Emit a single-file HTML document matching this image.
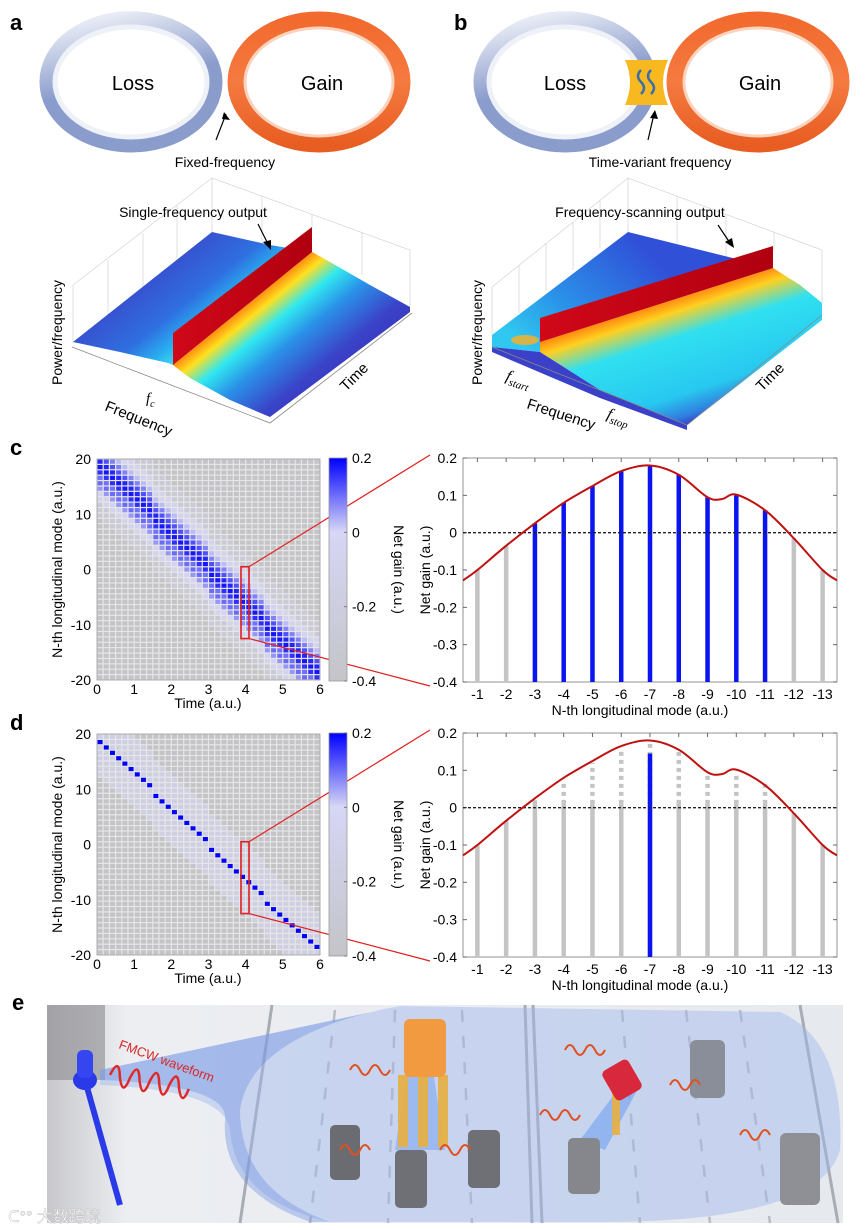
<!DOCTYPE html>
<html><head><meta charset="utf-8">
<style>
html,body{margin:0;padding:0;background:#fff;}
svg{display:block;font-family:"Liberation Sans","Noto Sans CJK SC",sans-serif;}
</style></head>
<body>
<svg id="fig" width="865" height="1230" viewBox="0 0 865 1230" xmlns="http://www.w3.org/2000/svg">
<defs>
  <linearGradient id="lossL" x1="0" y1="0" x2="0.3" y2="1">
    <stop offset="0" stop-color="#fff" stop-opacity="0.9"/><stop offset="0.6" stop-color="#fff" stop-opacity="0"/>
  </linearGradient>
  <linearGradient id="gainG" x1="0" y1="0" x2="0" y2="1">
    <stop offset="0" stop-color="#f26a2e"/><stop offset="0.5" stop-color="#f47a40"/><stop offset="1" stop-color="#e85d22"/>
  </linearGradient>
  <!-- panel a gradients -->
  <linearGradient id="aRight" gradientUnits="userSpaceOnUse" x1="240" y1="310" x2="306" y2="391">
    <stop offset="0" stop-color="#ff8a10"/><stop offset="0.12" stop-color="#ffe020"/><stop offset="0.3" stop-color="#30e8f0"/><stop offset="0.55" stop-color="#2a90e8"/><stop offset="0.9" stop-color="#3a44c8"/><stop offset="1" stop-color="#3a3ec4"/>
  </linearGradient>
  <linearGradient id="aLeft" gradientUnits="userSpaceOnUse" x1="177" y1="232" x2="240" y2="310">
    <stop offset="0" stop-color="#3a44c8"/><stop offset="0.6" stop-color="#2f6fe0"/><stop offset="0.85" stop-color="#28b0f0"/><stop offset="1" stop-color="#40d8f0"/>
  </linearGradient>
  <linearGradient id="wallA" x1="0" y1="0" x2="1" y2="0">
    <stop offset="0" stop-color="#d00818"/><stop offset="1" stop-color="#b00010"/>
  </linearGradient>
  <!-- panel b gradients -->
  <linearGradient id="bRight" gradientUnits="userSpaceOnUse" x1="656" y1="305" x2="694" y2="423">
    <stop offset="0" stop-color="#ff8a10"/><stop offset="0.1" stop-color="#ffd020"/><stop offset="0.3" stop-color="#30e0f0"/><stop offset="0.75" stop-color="#28c8f0"/><stop offset="0.92" stop-color="#2f80e0"/><stop offset="1" stop-color="#3a40c8"/>
  </linearGradient>
  <linearGradient id="bLeft" gradientUnits="userSpaceOnUse" x1="628" y1="232" x2="520" y2="345">
    <stop offset="0" stop-color="#3050d8"/><stop offset="0.6" stop-color="#2a90e8"/><stop offset="1" stop-color="#30c8f0"/>
  </linearGradient>
  <linearGradient id="bgE" x1="0" y1="0" x2="1" y2="0">
    <stop offset="0" stop-color="#c8c8cc"/><stop offset="0.1" stop-color="#eceef2"/><stop offset="1" stop-color="#e6e9ee"/>
  </linearGradient>
</defs>

<!-- ============ PANEL a ============ -->
<g>
  <text x="10" y="30" font-size="22" font-weight="bold">a</text>
  <ellipse cx="131" cy="82" rx="83" ry="62" fill="none" stroke="#8a9ccc" stroke-width="17"/>
  <ellipse cx="131" cy="82" rx="83" ry="62" fill="none" stroke="url(#lossL)" stroke-width="17"/>
  <ellipse cx="131" cy="82" rx="76" ry="55" fill="none" stroke="#eef1f8" stroke-width="5"/>
  <ellipse cx="319" cy="82" rx="83" ry="62" fill="none" stroke="url(#gainG)" stroke-width="17"/>
  <ellipse cx="319" cy="82" rx="74" ry="54" fill="none" stroke="#fbd3bd" stroke-width="3"/>
  <text x="133" y="90" font-size="20" text-anchor="middle">Loss</text>
  <text x="322" y="90" font-size="20" text-anchor="middle">Gain</text>
  <line x1="216" y1="140" x2="226" y2="114" stroke="#000" stroke-width="1.2"/>
  <path d="M224,112 L230,120 L222,119 Z" fill="#000"/>
  <text x="225" y="167" font-size="14" text-anchor="middle">Fixed-frequency</text>
  <g stroke="#d4d4d4" stroke-width="0.7" fill="none">
    <path d="M73,343 L73,285 L212,178 L410,250 L410,307"/>
    <path d="M212,178 L212,232"/>
    <path d="M108,316 L108,260 M143,289 L143,233 M177,262 L177,205 M262,196 L262,250 M312,214 L312,228 M362,232 L362,275"/>
  </g>
  <polygon points="73,342 212,232 270,245 312,252 173,365 168,363 120,352" fill="url(#aLeft)"/>
  <polygon points="312,252 330,262 370,285 410,307 410,312 270,417 230,400 190,378 173,365" fill="url(#aRight)"/>
  <polygon points="173,333 312,227 312,252 173,365" fill="url(#wallA)"/>
  <g stroke="#888" fill="none" stroke-width="0.8">
    <path d="M72,347 L270,423 L412,313"/>
  </g>
  <text x="193" y="217" font-size="14" text-anchor="middle">Single-frequency output</text>
  <line x1="258" y1="224" x2="268" y2="244" stroke="#000" stroke-width="1.2"/>
  <path d="M271,250 L263,242 L271,240 Z" fill="#000"/>
  <text transform="translate(62,385) rotate(-90)" font-size="14">Power/frequency</text>
  <text x="146" y="403" font-size="15" font-style="italic" font-family="Liberation Serif, serif">f<tspan font-size="10" dy="4">c</tspan></text>
  <text transform="translate(104,410) rotate(22)" font-size="15">Frequency</text>
  <text transform="translate(346,392) rotate(-45)" font-size="15">Time</text>
</g>

<!-- ============ PANEL b ============ -->
<g>
  <text x="454" y="30" font-size="22" font-weight="bold">b</text>
  <ellipse cx="565" cy="82" rx="83" ry="62" fill="none" stroke="#8a9ccc" stroke-width="17"/>
  <ellipse cx="565" cy="82" rx="83" ry="62" fill="none" stroke="url(#lossL)" stroke-width="17"/>
  <ellipse cx="565" cy="82" rx="76" ry="55" fill="none" stroke="#eef1f8" stroke-width="5"/>
  <ellipse cx="758" cy="82" rx="83" ry="62" fill="none" stroke="url(#gainG)" stroke-width="17"/>
  <ellipse cx="758" cy="82" rx="74" ry="54" fill="none" stroke="#fbd3bd" stroke-width="3"/>
  <path d="M625,60 L668,60 Q658,82 668,105 L625,105 Q635,82 625,60 Z" fill="#f8b820"/>
  <path d="M641,70 q-6,6 0,12 q6,6 0,12 M651,70 q-6,6 0,12 q6,6 0,12" stroke="#3a6ea8" stroke-width="2.5" fill="none"/>
  <text x="565" y="90" font-size="20" text-anchor="middle">Loss</text>
  <text x="760" y="90" font-size="20" text-anchor="middle">Gain</text>
  <line x1="648" y1="140" x2="654" y2="114" stroke="#000" stroke-width="1.2"/>
  <path d="M655,110 L658,119 L650,118 Z" fill="#000"/>
  <text x="660" y="167" font-size="14" text-anchor="middle">Time-variant frequency</text>
  <g stroke="#d4d4d4" stroke-width="0.7" fill="none">
    <path d="M492,335 L492,287 L628,178 L822,250 L822,303"/>
    <path d="M628,178 L628,232"/>
    <path d="M519,313 L519,265 M546,291 L546,243 M573,270 L573,222 M600,248 L600,200 M677,196 L677,245 M726,214 L726,258 M774,232 L774,250"/>
  </g>
  <polygon points="492,335 628,232 773,268 540,342 540,352 492,347" fill="url(#bLeft)"/>
  <ellipse cx="525" cy="340" rx="14" ry="5" fill="#ffb020" opacity="0.8"/>
  <polygon points="540,342 773,268 800,285 822,303 822,320 687,425 600,390 540,352" fill="url(#bRight)"/>
  <polygon points="492,347 540,352 600,390 687,425 687,430 600,398 492,352" fill="#3a40c8"/>
  <polygon points="540,318 773,246 773,268 540,342" fill="url(#wallA)"/>
  <path d="M492,347 L687,425 L822,315" stroke="#888" fill="none" stroke-width="0.8"/>
  <text x="640" y="217" font-size="14" text-anchor="middle">Frequency-scanning output</text>
  <line x1="718" y1="225" x2="730" y2="243" stroke="#000" stroke-width="1.2"/>
  <path d="M734,248 L725,242 L732,238 Z" fill="#000"/>
  <text transform="translate(482,385) rotate(-90)" font-size="14">Power/frequency</text>
  <text transform="translate(505,380) rotate(18)" font-size="16" font-style="italic" font-family="Liberation Serif, serif">f<tspan font-size="11" dy="4">start</tspan></text>
  <text transform="translate(606,418) rotate(18)" font-size="16" font-style="italic" font-family="Liberation Serif, serif">f<tspan font-size="11" dy="4">stop</tspan></text>
  <text transform="translate(526,408) rotate(18)" font-size="15">Frequency</text>
  <text transform="translate(762,392) rotate(-45)" font-size="15">Time</text>
</g>

<g id="chartsC"></g>
<g id="chartsD"></g>

<!-- ============ PANEL e ============ -->
<g>
  <text x="12" y="1010" font-size="22" font-weight="bold">e</text>
  <rect x="47" y="1005" width="796" height="218" fill="url(#bgE)"/>
  <rect x="47" y="1005" width="58" height="75" fill="#8a8a8e" opacity="0.6"/>
  <g stroke="#a8acb4" stroke-width="3">
    <line x1="272" y1="1005" x2="240" y2="1223"/>
    <line x1="525" y1="1005" x2="532" y2="1223"/>
    <line x1="533" y1="1005" x2="542" y2="1223"/>
    <line x1="800" y1="1005" x2="838" y2="1223"/>
  </g>
  <g stroke="#b8bcc4" stroke-width="2.5" stroke-dasharray="12,14">
    <line x1="335" y1="1010" x2="310" y2="1223"/>
    <line x1="395" y1="1010" x2="388" y2="1223"/>
    <line x1="462" y1="1010" x2="472" y2="1223"/>
    <line x1="622" y1="1010" x2="640" y2="1223"/>
    <line x1="686" y1="1010" x2="710" y2="1223"/>
    <line x1="740" y1="1010" x2="770" y2="1223"/>
  </g>
  <path d="M100,1070 L400,1006 L780,1012 Q845,1040 840,1150 Q820,1222 600,1222 L330,1222 Q235,1200 230,1130 Q225,1090 100,1085 Z" fill="#9fb8ee" opacity="0.45"/>
  <path d="M100,1070 L400,1006 L380,1010 Q250,1040 240,1110 Q240,1190 330,1222 L310,1222 Q220,1190 225,1120 Q230,1085 100,1080 Z" fill="#5f88e0" opacity="0.35"/>
  <polygon points="395,1150 410,1050 430,1050 445,1150" fill="#6fa0f0" opacity="0.5"/>
  <polygon points="580,1140 625,1080 640,1085 605,1150" fill="#6fa0f0" opacity="0.6"/>
  <g fill="#e8b040" opacity="0.9">
    <rect x="398" y="1075" width="10" height="72"/><rect x="418" y="1075" width="10" height="72"/><rect x="438" y="1075" width="10" height="72"/><rect x="612" y="1090" width="8" height="45"/>
  </g>
  <rect x="404" y="1019" width="42" height="58" rx="6" fill="#f29a40"/>
  <rect x="607" y="1063" width="30" height="34" rx="5" fill="#d8283c" transform="rotate(-30 622 1080)"/>
  <rect x="690" y="1040" width="35" height="58" rx="6" fill="#8a8e98"/>
  <rect x="780" y="1133" width="40" height="72" rx="6" fill="#8e9096"/>
  <rect x="330" y="1125" width="30" height="55" rx="5" fill="#6a6c72"/>
  <rect x="395" y="1150" width="32" height="58" rx="5" fill="#6e7076"/>
  <rect x="468" y="1130" width="32" height="58" rx="5" fill="#6e7076"/>
  <rect x="568" y="1138" width="32" height="56" rx="5" fill="#85878c"/>
  <line x1="85" y1="1080" x2="120" y2="1205" stroke="#2a3ae8" stroke-width="6"/>
  <ellipse cx="85" cy="1080" rx="12" ry="10" fill="#2a3ae8"/>
  <rect x="77" y="1050" width="16" height="28" rx="6" fill="#3546f0"/>
  <path d="M110,1075 q6,-20 10,0 q6,20 10,0 q6,-20 10,0 q6,20 10,0 q6,-20 10,0 q6,20 10,0 q6,-20 10,0 q6,20 10,0" stroke="#e02828" stroke-width="2.5" fill="none" transform="rotate(10 110 1075)"/>
  <text transform="translate(118,1048) rotate(20)" font-size="13" fill="#d82828">FMCW waveform</text>
  <g stroke="#e05020" stroke-width="2" fill="none">
    <path d="M350,1070 q5,-10 10,0 q5,10 10,0 q5,-10 10,0 q5,10 10,0"/>
    <path d="M340,1150 q5,-10 10,0 q5,10 10,0 q5,-10 10,0"/>
    <path d="M440,1150 q5,-10 10,0 q5,10 10,0 q5,-10 10,0"/>
    <path d="M540,1115 q5,-10 10,0 q5,10 10,0 q5,-10 10,0 q5,10 10,0"/>
    <path d="M565,1050 q5,-10 10,0 q5,10 10,0 q5,-10 10,0 q5,10 10,0"/>
    <path d="M670,1085 q5,-10 10,0 q5,10 10,0 q5,-10 10,0"/>
    <path d="M740,1135 q5,-10 10,0 q5,10 10,0 q5,-10 10,0"/>
  </g>
  <text x="8" y="1222" font-size="16" fill="#ffffff" stroke="#bbb" stroke-width="0.4">ᑕ°° 大数跨境</text>
</g>
</svg>

<script>
// ---- data ----
const modeLabels = ["-1","-2","-3","-4","-5","-6","-7","-8","-9","-10","-11","-12","-13"];
const gainC = [-0.10,-0.035,0.025,0.08,0.125,0.165,0.18,0.155,0.095,0.10,0.06,-0.015,-0.10];
const gainD = [-0.10,-0.035,0.02,0.065,0.12,0.16,0.175,0.16,0.09,0.09,0.065,-0.015,-0.10];
const lasingD = [0,0,0,0,0,0,0.145,0,0,0,0,0,0];
const curveX = [0.5,1,2,3,4,5,6,7,8,9,9.5,10,11,12,13,13.5];
const curveY = [-0.128,-0.10,-0.035,0.025,0.08,0.125,0.165,0.18,0.155,0.095,0.09,0.102,0.06,-0.015,-0.10,-0.128];
const yTicks = [0.2,0.1,0,-0.1,-0.2,-0.3,-0.4];
const yTickLabels = ["0.2","0.1","0","-0.1","-0.2","-0.3","-0.4"];
const hmXTicks = [0,1,2,3,4,5,6];
const hmYTicks = [20,10,0,-10,-20];
const cbTicks = [0.2,0,-0.2,-0.4];
const cbTickLabels = ["0.2","0","-0.2","-0.4"];
const hmCols = 36, hmRows = 41;

const NS = "http://www.w3.org/2000/svg";
function mk(tag, attrs, parent){const e=document.createElementNS(NS,tag);for(const k in attrs)e.setAttribute(k,attrs[k]);parent.appendChild(e);return e;}

function valColor(v){
  if (v <= -0.3) return "#c4c4c8";
  if (v < 0){const t=(v+0.3)/0.3;return `rgb(${Math.round(196+(214-196)*t)},${Math.round(196+(214-196)*t)},${Math.round(200+(246-200)*t)})`;}
  const t=Math.min(1,v/0.2);
  return `rgb(${Math.round(214*(1-t))},${Math.round(214*(1-t))},${Math.round(246+9*t)})`;
}

function drawPanel(g, dy, mode, label){
  const lab = mk("text",{x:10,y:455+dy,"font-size":22,"font-weight":"bold"},g);
  lab.textContent = label;
  
  

  const hx0=97,hx1=320,hy0=459+dy,hy1=680+dy;
  const hm = mk("g",{},g);
  
  
  mk("rect",{x:hx0,y:hy0,width:hx1-hx0,height:hy1-hy0,fill:"#e6e6e6"},hm);
  const cw=(hx1-hx0)/hmCols, ch=(hy1-hy0)/hmRows;
  for(let c=0;c<hmCols;c++){
    const t=(c+0.5)/hmCols*6;
    const center = 20 - 40*t/6;
    for(let r=0;r<hmRows;r++){
      const m = 20 - r;
      const d = Math.round(m - center);
      const idx = 6 - d;
      let v;
      if (mode==="c"){ v = (idx>=0 && idx<gainC.length) ? gainC[idx] : (Math.abs(d)<10 ? -0.2 : -0.4);
        if(idx>=0&&idx<gainC.length&&v<0) v=-0.05; }
      else { v = (d===0) ? 0.2 : (Math.abs(d)<=6 ? -0.12 : -0.4); }
      const cell = mk("rect",{x:(hx0+c*cw+0.6).toFixed(2),y:(hy0+r*ch+0.6).toFixed(2),width:(cw-1.2).toFixed(2),height:(ch-1.2).toFixed(2),fill:valColor(v)},hm);
      
      
    }
  }
  mk("rect",{x:hx0,y:hy0,width:hx1-hx0,height:hy1-hy0,fill:"none",stroke:"#999","stroke-width":0.8},hm);
  hmXTicks.forEach(t=>{const x=hx0+t/6*(hx1-hx0);const tx=mk("text",{x:x,y:hy1+14,"font-size":14,"text-anchor":"middle"},g);tx.textContent=t;
    });
  hmYTicks.forEach(t=>{const y=hy0+(20-t)/40*(hy1-hy0);const tx=mk("text",{x:hx0-6,y:y+5,"font-size":14,"text-anchor":"end"},g);tx.textContent=t;
    });
  const xt=mk("text",{x:208,y:hy1+28,"font-size":14,"text-anchor":"middle"},g);xt.textContent="Time (a.u.)";
  
  const yt=mk("text",{transform:`translate(62,${(hy0+hy1)/2}) rotate(-90)`,"font-size":14,"text-anchor":"middle"},g);yt.textContent="N-th longitudinal mode (a.u.)";
  
  const zy0=hy0+(20-0.5)/40*(hy1-hy0), zy1=hy0+(20+12.5)/40*(hy1-hy0);
  const zr=mk("rect",{x:241,y:zy0,width:8,height:zy1-zy0,fill:"none",stroke:"#e02020","stroke-width":1.6},g);
  
  mk("line",{x1:249,y1:zy0,x2:430,y2:455+dy,stroke:"#e02020","stroke-width":1.2},g);
  mk("line",{x1:249,y1:zy1,x2:430,y2:686+dy,stroke:"#e02020","stroke-width":1.2},g);

  const cbx=329,cbw=18;
  const lg=mk("linearGradient",{id:"cb"+label,x1:0,y1:0,x2:0,y2:1},g);
  [[0,"#0000ff"],[0.33,"#d6d6f6"],[1,"#c4c4c8"]].forEach(s=>mk("stop",{offset:s[0],"stop-color":s[1]},lg));
  const cb=mk("rect",{x:cbx,y:hy0-1,width:cbw,height:hy1-hy0+2,fill:`url(#cb${label})`,stroke:"#999","stroke-width":0.8},g);
  
  cbTicks.forEach((t,i)=>{const y=hy0-1+(0.2-t)/0.6*(hy1-hy0+2);
    mk("line",{x1:cbx+cbw-3,y1:y,x2:cbx+cbw,y2:y,stroke:"#777"},g);
    const tx=mk("text",{x:cbx+cbw+5,y:y+5,"font-size":14},g);tx.textContent=cbTickLabels[i];
    });
  const cbt=mk("text",{transform:`translate(394,${(hy0+hy1)/2}) rotate(90)`,"font-size":14,"text-anchor":"middle"},g);cbt.textContent="Net gain (a.u.)";
  

  const px0=463,px1=837,py0=458+dy,py1=682+dy;
  const X=i=>px0+(i-0.5)/13*(px1-px0);
  const Y=v=>py0+(0.2-v)/0.6*(py1-py0);
  const bc=mk("g",{},g);
  
  mk("rect",{x:px0,y:py0,width:px1-px0,height:py1-py0,fill:"#fff",stroke:"#888","stroke-width":0.9},bc);
  yTicks.forEach((t,i)=>{const y=Y(t);
    mk("line",{x1:px0,y1:y,x2:px0+4,y2:y,stroke:"#666"},bc);mk("line",{x1:px1-4,y1:y,x2:px1,y2:y,stroke:"#666"},bc);
    const tx=mk("text",{x:px0-6,y:y+5,"font-size":14,"text-anchor":"end"},g);tx.textContent=yTickLabels[i];
    });
  modeLabels.forEach((l,k)=>{const x=X(k+1);
    mk("line",{x1:x,y1:py0,x2:x,y2:py0+4,stroke:"#666"},bc);mk("line",{x1:x,y1:py1-4,x2:x,y2:py1,stroke:"#666"},bc);
    const tx=mk("text",{x:x,y:py1+17,"font-size":14,"text-anchor":"middle"},g);tx.textContent=l;
    });
  for(let k=0;k<13;k++){
    const x=X(k+1);
    if(mode==="c"){
      const v=gainC[k];
      const b=mk("line",{x1:x,y1:py1,x2:x,y2:Y(v),stroke:v>0?"#0a14f0":"#c4c4c4","stroke-width":4.5},bc);
      
    } else {
      const v=gainD[k];
      const solidTop=Math.min(v,0.01);
      const b=mk("line",{x1:x,y1:py1,x2:x,y2:Y(solidTop),stroke:"#c4c4c4","stroke-width":4.5},bc);
      
      if(v>0.01){const db=mk("line",{x1:x,y1:Y(0.01),x2:x,y2:Y(v),stroke:"#c4c4c4","stroke-width":4.5,"stroke-dasharray":"4,4"},bc);
        }
      if(lasingD[k]>0){const lb=mk("line",{x1:x,y1:py1,x2:x,y2:Y(lasingD[k]),stroke:"#0a14f0","stroke-width":4.5},bc);
        }
    }
  }
  const zl=mk("line",{x1:px0,y1:Y(0),x2:px1,y2:Y(0),stroke:"#222","stroke-width":1.3,"stroke-dasharray":"3,2"},bc);
  
  const pts=curveX.map((cx,i)=>[X(cx),Y(curveY[i])]);
  let d=`M${pts[0][0]},${pts[0][1]}`;
  for(let i=0;i<pts.length-1;i++){
    const p0=pts[Math.max(0,i-1)],p1=pts[i],p2=pts[i+1],p3=pts[Math.min(pts.length-1,i+2)];
    const c1=[p1[0]+(p2[0]-p0[0])/6,p1[1]+(p2[1]-p0[1])/6],c2=[p2[0]-(p3[0]-p1[0])/6,p2[1]-(p3[1]-p1[1])/6];
    d+=` C${c1[0].toFixed(1)},${c1[1].toFixed(1)} ${c2[0].toFixed(1)},${c2[1].toFixed(1)} ${p2[0].toFixed(1)},${p2[1].toFixed(1)}`;
  }
  const cv=mk("path",{d:d,fill:"none",stroke:"#c01010","stroke-width":2},bc);
  
  const bt=mk("text",{x:640,y:py1+33,"font-size":14,"text-anchor":"middle"},g);bt.textContent="N-th longitudinal mode (a.u.)";
  
  const by=mk("text",{transform:`translate(430,${(py0+py1)/2}) rotate(-90)`,"font-size":14,"text-anchor":"middle"},g);by.textContent="Net gain (a.u.)";
  
}
const gc=document.getElementById("chartsC");


const gd=document.getElementById("chartsD");


drawPanel(gc,0,"c","c");
drawPanel(gd,275,"d","d");
</script>
</body></html>
